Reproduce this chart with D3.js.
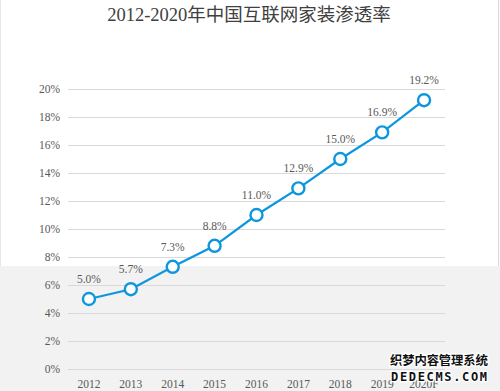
<!DOCTYPE html>
<html>
<head>
<meta charset="utf-8">
<script src="https://cdn.jsdelivr.net/npm/d3@7"></script>
<style>
  body { margin: 0; background: #fff; }
  svg { display: block; }
</style>
</head>
<body>
<svg id="chart" width="500" height="391"></svg>
<script>
const years = ["2012", "2013", "2014", "2015", "2016", "2017", "2018", "2019", "2020F"];
const rates = [5.0, 5.7, 7.3, 8.8, 11.0, 12.9, 15.0, 16.9, 19.2];
const yTicks = [0, 2, 4, 6, 8, 10, 12, 14, 16, 18, 20];
const titleText = "2012-2020年中国互联网家装渗透率";

const width = 500;
const height = 391;
const margin = { top: 89, right: 55, bottom: 22, left: 68 };

const serif = "'Liberation Serif', 'DejaVu Serif', 'Noto Sans CJK SC', serif";
const textColor = "#595959";
const blue = "#0d96dd";

const svg = d3.select("#chart");

// page background, lower half is grey in the source screenshot
svg.append("rect")
  .attr("x", 0).attr("y", 266)
  .attr("width", width).attr("height", height - 266)
  .attr("fill", "#f2f2f2");
svg.append("line")
  .attr("x1", 0.5).attr("x2", 0.5).attr("y1", 0).attr("y2", 266)
  .attr("stroke", "#e6e6e6");
svg.append("line")
  .attr("x1", 498.5).attr("x2", 498.5).attr("y1", 0).attr("y2", 266)
  .attr("stroke", "#d9d9d9");

const x = d3.scaleBand()
  .domain(years)
  .range([margin.left, width - margin.right]);

const y = d3.scaleLinear()
  .domain([0, 20])
  .range([height - margin.bottom, margin.top]);

// title
svg.append("text")
  .attr("x", 249)
  .attr("y", 21)
  .attr("text-anchor", "middle")
  .attr("font-family", serif)
  .attr("font-size", 18.5)
  .attr("fill", "#404040")
  .text(titleText);

// grid
svg.append("g")
  .selectAll("line")
  .data(yTicks)
  .enter()
  .append("line")
  .attr("x1", margin.left)
  .attr("x2", width - margin.right)
  .attr("y1", (d) => Math.round(y(d)) + 0.5)
  .attr("y2", (d) => Math.round(y(d)) + 0.5)
  .attr("stroke", "#d9d9d9")
  .attr("stroke-width", 1);

// y axis labels
const yAxis = svg.append("g")
  .attr("transform", "translate(" + (margin.left - 8) + ",0)")
  .call(d3.axisLeft(y).tickValues(yTicks).tickSize(0).tickFormat((d) => d + "%"));
yAxis.select(".domain").remove();
yAxis.selectAll("text")
  .attr("font-family", serif)
  .attr("font-size", 11.5)
  .attr("fill", textColor)
  .attr("x", 0);

// x axis labels
const xAxis = svg.append("g")
  .attr("transform", "translate(0," + (height - margin.bottom) + ")")
  .call(d3.axisBottom(x).tickSize(0));
xAxis.select(".domain").remove();
xAxis.selectAll("text")
  .attr("font-family", serif)
  .attr("font-size", 11.5)
  .attr("fill", textColor)
  .attr("dy", "1.35em");

const cx = (d, i) => x(years[i]) + x.bandwidth() / 2;

// line
const line = d3.line()
  .x((d, i) => cx(d, i))
  .y((d) => y(d));

svg.append("path")
  .datum(rates)
  .attr("d", line)
  .attr("fill", "none")
  .attr("stroke", blue)
  .attr("stroke-width", 2.2);

// markers
svg.append("g")
  .selectAll("circle")
  .data(rates)
  .enter()
  .append("circle")
  .attr("cx", cx)
  .attr("cy", (d) => y(d))
  .attr("r", 6)
  .attr("fill", "#fff")
  .attr("stroke", blue)
  .attr("stroke-width", 2.4);

// data labels
svg.append("g")
  .selectAll("text")
  .data(rates)
  .enter()
  .append("text")
  .attr("x", cx)
  .attr("y", (d) => y(d) - 16)
  .attr("text-anchor", "middle")
  .attr("font-family", serif)
  .attr("font-size", 11.5)
  .attr("fill", textColor)
  .text((d) => d.toFixed(1) + "%");

// site watermark in the corner of the source image
const mark = svg.append("g")
  .attr("font-weight", "bold")
  .attr("fill", "#111")
  .attr("stroke", "#fff")
  .attr("stroke-width", 2.5)
  .attr("paint-order", "stroke");
mark.append("text")
  .attr("x", 390).attr("y", 365)
  .attr("font-family", "'Noto Sans CJK SC', sans-serif")
  .attr("font-size", 12.5)
  .attr("textLength", 98)
  .text("织梦内容管理系统");
mark.append("text")
  .attr("x", 391).attr("y", 381)
  .attr("font-family", "'DejaVu Sans Mono', monospace")
  .attr("font-size", 12)
  .attr("textLength", 96)
  .text("DEDECMS.COM");
</script>
</body>
</html>
